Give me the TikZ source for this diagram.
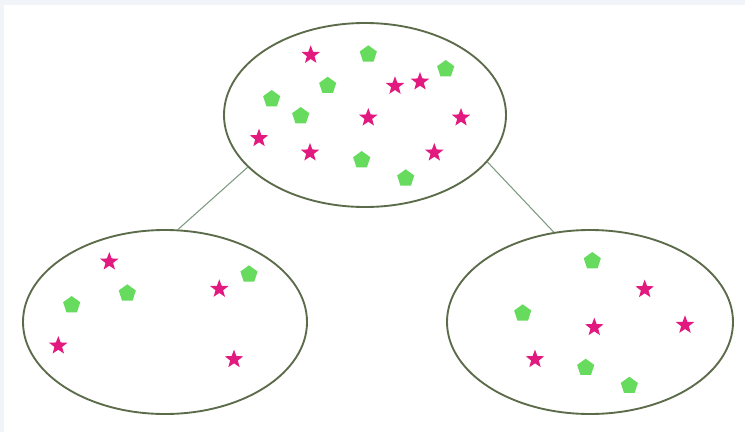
\documentclass[tikz,border=0pt]{standalone}
\usetikzlibrary{shapes.geometric}
\definecolor{bgstrip}{HTML}{F1F5FA}
\definecolor{ringcol}{HTML}{5C6B4A}
\definecolor{linkcol}{HTML}{7E9A82}
\definecolor{starcol}{HTML}{E2197F}
\definecolor{pentcol}{HTML}{66DB5E}
\tikzset{
  setbox/.style={ellipse, draw=ringcol, line width=1.4pt, inner sep=0pt},
  starmark/.style={star, star points=5, star point ratio=2.4, fill=starcol, draw=none, minimum size=14.5pt, inner sep=0pt},
  pentmark/.style={regular polygon, regular polygon sides=5, fill=pentcol, draw=none, minimum size=13.5pt, inner sep=0pt},
  link/.style={draw=linkcol, line width=0.8pt}
}
\begin{document}
\begin{tikzpicture}[x=0.75pt,y=-0.75pt]
\useasboundingbox (0,0) rectangle (745,432);
\fill[white] (0,0) rectangle (745,432);
\fill[bgstrip] (0,0) rectangle (745,5);
\fill[bgstrip] (0,0) rectangle (4,432);
% sets
\node[setbox, minimum width=211.5pt, minimum height=138pt] (top) at (365,115) {};
\node[setbox, minimum width=213pt, minimum height=138pt] (left) at (165,322) {};
\node[setbox, minimum width=214.5pt, minimum height=138pt] (right) at (590,322) {};
% links
\draw[link] (top.204) -- (left.82);
\draw[link] (top.339) -- (right.112);
% top set
\node[starmark] (t1) at (310.7,55) {};
\node[starmark] (t2) at (395,86) {};
\node[starmark] (t3) at (420,81.7) {};
\node[starmark] (t4) at (368.3,117.7) {};
\node[starmark] (t5) at (461,117.7) {};
\node[starmark] (t6) at (259,138.3) {};
\node[starmark] (t7) at (310,152.7) {};
\node[starmark] (t8) at (434.3,152.7) {};
\node[pentmark] (tp1) at (368.3,54.3) {};
\node[pentmark] (tp2) at (445.7,69) {};
\node[pentmark] (tp3) at (327.7,85.7) {};
\node[pentmark] (tp4) at (271.7,99) {};
\node[pentmark] (tp5) at (300.7,116) {};
\node[pentmark] (tp6) at (361.7,160) {};
\node[pentmark] (tp7) at (405.7,178.3) {};
% left set
\node[starmark] (l1) at (109.3,261.7) {};
\node[starmark] (l2) at (219.3,289) {};
\node[starmark] (l3) at (58.3,345.7) {};
\node[starmark] (l4) at (234,359.3) {};
\node[pentmark] (lp1) at (249,274.3) {};
\node[pentmark] (lp2) at (127.3,293.3) {};
\node[pentmark] (lp3) at (71.7,305) {};
% right set
\node[pentmark] (rp1) at (592.3,261) {};
\node[pentmark] (rp2) at (522.7,313.3) {};
\node[pentmark] (rp3) at (585.7,367.7) {};
\node[pentmark] (rp4) at (629.3,385.7) {};
\node[starmark] (r1) at (644.7,289.3) {};
\node[starmark] (r2) at (594.3,327.3) {};
\node[starmark] (r3) at (685,325) {};
\node[starmark] (r4) at (535,359.3) {};
\end{tikzpicture}
\end{document}
